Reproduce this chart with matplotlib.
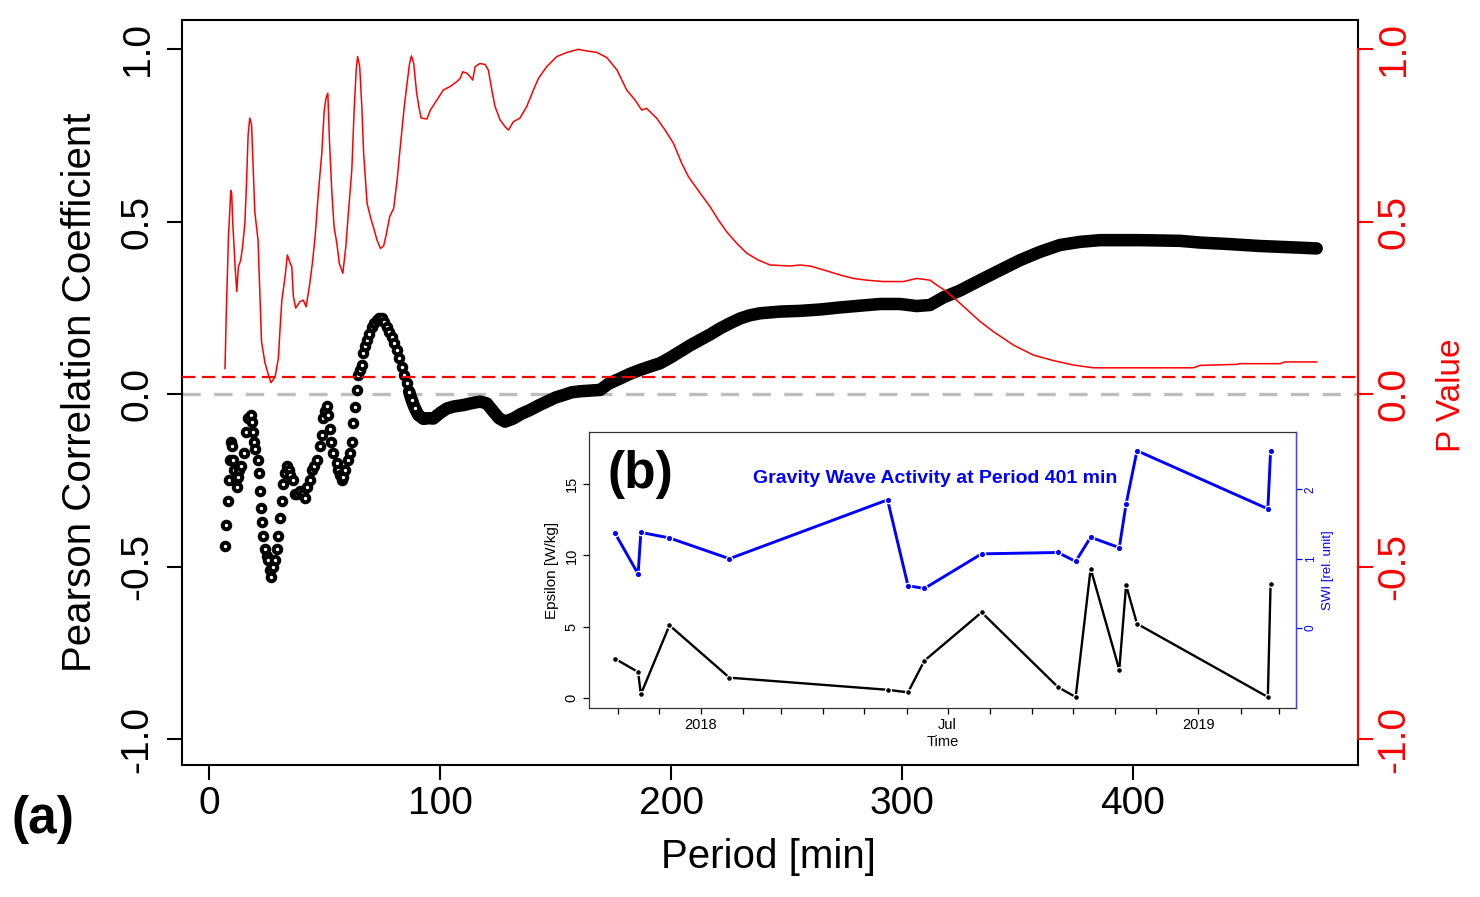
import matplotlib

matplotlib.use("Agg")

import matplotlib.pyplot as plt  # noqa: E402
import pandas as pd  # noqa: E402

plt.rcParams["font.family"] = ["Liberation Sans", "DejaVu Sans"]
NARROW = ["Liberation Sans Narrow", "Liberation Sans", "DejaVu Sans"]

# ---- panel (a): correlation and p value against period ----
corr_period = [
    7.0, 7.5, 8.0, 8.5, 9.0, 9.5, 10.0, 10.5, 11.0, 11.5,
    12.0, 12.5, 13.0, 14.0, 15.0, 16.0, 17.0, 18.0, 18.5, 19.0,
    19.5, 20.0, 21.0, 21.5, 22.0, 22.5, 23.0, 23.5, 24.2, 25.0,
    25.7, 26.4, 27.0, 27.8, 28.5, 29.3, 30.0, 30.7, 31.5, 32.2,
    33.0, 33.6, 34.5, 35.1, 36.5, 37.2, 38.0, 39.4, 40.5, 41.6,
    42.3, 43.7, 44.4, 45.5, 46.6, 48.1, 48.8, 49.5, 50.2, 51.0,
    51.7, 52.4, 52.8, 53.8, 55.3, 56.0, 56.7, 57.4, 58.1, 58.9,
    60.3, 61.0, 61.8, 62.5, 63.2, 63.9, 64.6, 65.3, 66.1, 66.8,
    67.5, 68.3, 69.3, 70.4, 71.5, 72.6, 73.6, 74.7, 75.8, 76.9,
    78.0, 79.1, 80.2, 81.2, 82.3, 83.4, 84.5, 85.6, 86.6, 87.7,
    89.0, 90.6, 92.8, 95.0, 97.1, 100.0, 102.9, 106.0, 110.1, 114.0,
    117.3, 120.2, 123.1, 125.5, 128.1, 131.7, 135.0, 139.0, 143.0, 146.2,
    150.0, 153.4, 157.0, 160.6, 165.0, 169.3, 173.0, 177.9, 182.0, 186.6,
    191.0, 195.2, 199.5, 203.9, 208.0, 212.6, 217.0, 221.2, 225.5, 229.9,
    234.0, 238.5, 247.2, 255.8, 264.5, 273.2, 281.8, 290.5, 299.1, 306.3,
    312.1, 317.9, 325.1, 333.8, 342.4, 351.1, 359.7, 368.4, 377.1, 385.7,
    403.0, 420.3, 429.0, 440.6, 455.0, 469.4, 479.5,
]
corr_value = [
    -0.44, -0.38, -0.31, -0.25, -0.19, -0.14, -0.15, -0.19, -0.22, -0.25,
    -0.27, -0.24, -0.22, -0.21, -0.17, -0.11, -0.07, -0.06, -0.08, -0.11,
    -0.14, -0.16, -0.19, -0.23, -0.28, -0.33, -0.37, -0.41, -0.45, -0.47,
    -0.48, -0.51, -0.53, -0.50, -0.48, -0.45, -0.41, -0.36, -0.31, -0.26,
    -0.23, -0.21, -0.22, -0.235, -0.25, -0.29, -0.29, -0.28, -0.29, -0.30,
    -0.27, -0.25, -0.22, -0.21, -0.19, -0.15, -0.12, -0.07, -0.05, -0.035,
    -0.06, -0.10, -0.14, -0.17, -0.20, -0.22, -0.235, -0.25, -0.24, -0.22,
    -0.19, -0.17, -0.14, -0.085, -0.037, 0.012, 0.055, 0.07, 0.085, 0.118,
    0.14, 0.157, 0.175, 0.195, 0.207, 0.216, 0.219, 0.219, 0.21, 0.195,
    0.18, 0.166, 0.148, 0.128, 0.103, 0.079, 0.055, 0.031, 0.007, -0.017,
    -0.04, -0.061, -0.072, -0.07, -0.071, -0.055, -0.042, -0.036, -0.032, -0.026,
    -0.022, -0.027, -0.051, -0.07, -0.08, -0.071, -0.058, -0.046, -0.032, -0.022,
    -0.01, -0.003, 0.005, 0.008, 0.01, 0.012, 0.03, 0.045, 0.058, 0.07,
    0.08, 0.089, 0.105, 0.123, 0.14, 0.157, 0.173, 0.19, 0.205, 0.219,
    0.228, 0.234, 0.239, 0.241, 0.245, 0.251, 0.256, 0.261, 0.261, 0.255,
    0.258, 0.28, 0.30, 0.33, 0.359, 0.388, 0.412, 0.432, 0.441, 0.446,
    0.446, 0.444, 0.439, 0.435, 0.429, 0.425, 0.422,
]
pval_period = [
    6.9, 7.4, 8.4, 9.4, 9.8, 10.2, 11.3, 12.0, 12.7, 13.7,
    14.5, 15.5, 16.2, 16.9, 17.6, 18.4, 19.1, 19.8, 21.2, 22.0,
    22.7, 24.2, 25.7, 26.8, 28.6, 30.0, 30.7, 31.5, 32.9, 33.9,
    35.1, 35.8, 36.5, 37.5, 39.4, 40.8, 42.0, 43.4, 44.7, 45.9,
    47.3, 48.8, 49.8, 50.6, 51.4, 52.1, 53.1, 54.1, 55.3, 56.4,
    57.9, 59.2, 60.3, 61.8, 62.8, 63.7, 64.3, 65.2, 66.2, 66.9,
    68.4, 69.8, 71.3, 72.7, 74.2, 75.6, 76.8, 78.2, 79.9, 81.4,
    82.5, 83.5, 84.5, 85.7, 86.8, 87.6, 88.6, 89.8, 90.8, 91.8,
    94.3, 95.8, 98.6, 101.4, 104.3, 107.2, 108.7, 109.8, 111.5, 113.0,
    114.1, 115.2, 117.3, 119.5, 120.9, 122.4, 123.8, 126.0, 128.1, 129.6,
    131.7, 134.6, 137.5, 140.4, 142.6, 146.2, 150.5, 154.9, 159.9, 162.8,
    167.9, 172.2, 176.6, 180.8, 184.4, 187.3, 189.4, 193.8, 197.4, 201.0,
    204.6, 207.5, 212.6, 216.9, 220.5, 224.1, 228.4, 232.8, 237.8, 242.9,
    251.5, 255.8, 260.2, 267.4, 273.2, 278.9, 284.7, 291.9, 300.6, 306.3,
    312.1, 315.0, 319.3, 325.1, 333.8, 339.5, 348.2, 356.8, 365.5, 374.2,
    382.8, 426.1, 429.0, 444.9, 446.3, 463.6, 465.8, 479.5,
]
pval_value = [
    0.074, 0.224, 0.456, 0.59, 0.58, 0.504, 0.365, 0.297, 0.369, 0.388,
    0.427, 0.495, 0.61, 0.75, 0.80, 0.78, 0.65, 0.528, 0.446, 0.292,
    0.152, 0.09, 0.055, 0.033, 0.05, 0.104, 0.186, 0.272, 0.34, 0.403,
    0.379, 0.369, 0.282, 0.249, 0.268, 0.272, 0.253, 0.311, 0.378, 0.456,
    0.582, 0.698, 0.818, 0.857, 0.872, 0.736, 0.591, 0.485, 0.437, 0.378,
    0.35, 0.427, 0.524, 0.65, 0.823, 0.94, 0.978, 0.95, 0.823, 0.698,
    0.553, 0.514, 0.48, 0.446, 0.422, 0.43, 0.466, 0.514, 0.538, 0.62,
    0.698, 0.765, 0.833, 0.90, 0.958, 0.98, 0.958, 0.876, 0.833, 0.80,
    0.797, 0.823, 0.852, 0.881, 0.891, 0.905, 0.915, 0.934, 0.93, 0.92,
    0.91, 0.949, 0.958, 0.955, 0.939, 0.881, 0.833, 0.794, 0.775, 0.765,
    0.789, 0.80, 0.833, 0.881, 0.915, 0.949, 0.978, 0.99, 0.999, 0.995,
    0.99, 0.975, 0.939, 0.881, 0.852, 0.823, 0.828, 0.799, 0.765, 0.727,
    0.669, 0.63, 0.582, 0.543, 0.504, 0.47, 0.437, 0.408, 0.388, 0.374,
    0.371, 0.374, 0.371, 0.357, 0.345, 0.335, 0.33, 0.326, 0.326, 0.335,
    0.33, 0.316, 0.297, 0.263, 0.21, 0.181, 0.142, 0.113, 0.097, 0.084,
    0.076, 0.076, 0.083, 0.086, 0.088, 0.088, 0.093, 0.093,
]
P_LEVEL = 0.05
period_ticks = [0, 100, 200, 300, 400]
value_ticks = [-1.0, -0.5, 0.0, 0.5, 1.0]

# ---- panel (b): time series at period 401 min ----
obs_dates = pd.to_datetime([
    "2017-10-30", "2017-11-16", "2017-11-18", "2017-12-09", "2018-01-22",
    "2018-05-18", "2018-06-02", "2018-06-14", "2018-07-26", "2018-09-20",
    "2018-10-03", "2018-10-14", "2018-11-04", "2018-11-09", "2018-11-17",
    "2019-02-21", "2019-02-23",
])
epsilon = [2.74, 1.81, 0.24, 5.09, 1.41, 0.56, 0.38, 2.6, 6.0, 0.75,
           0.05, 9.07, 1.97, 7.9, 5.2, 0.05, 8.0]
swi = [1.37, 0.78, 1.38, 1.3, 1.0, 1.85, 0.61, 0.57, 1.07, 1.09,
       0.96, 1.31, 1.16, 1.79, 2.56, 1.72, 2.55]
month_ticks = pd.date_range("2017-11-01", "2019-03-01", freq="MS")
month_labels = {"2018-01": "2018", "2018-07": "Jul", "2019-01": "2019"}

fig = plt.figure(figsize=(14.8, 8.97), dpi=100)
fig.patch.set_facecolor("white")

ax = fig.add_axes([0.123, 0.1472, 0.7946, 0.8305])
ax.set_xlim(-11.7, 497.4)
ax.set_ylim(-1.075, 1.084)
ax.axhline(0.0, color="#bebebe", linewidth=2.4, dashes=(5.5, 4), zorder=1)

# the dense part of the curve is drawn as a thick band, the sparse start as symbols
early = [i for i, p in enumerate(corr_period) if p < 90]
late = [i for i, p in enumerate(corr_period) if p >= 86]
ax.plot([corr_period[i] for i in late], [corr_value[i] for i in late],
        color="black", linewidth=9, solid_capstyle="round", zorder=2)
ax.plot([corr_period[i] for i in early], [corr_value[i] for i in early],
        linestyle="none", marker="o", markersize=5.4, markerfacecolor="white",
        markeredgecolor="black", markeredgewidth=2.9, zorder=3)

ax.set_xticks(period_ticks)
ax.set_yticks(value_ticks)
ax.set_yticklabels([f"{v:.1f}" for v in value_ticks], rotation=90, va="center")
ax.tick_params(axis="both", labelsize=28, length=11, width=1.5, direction="out")
ax.tick_params(axis="x", pad=4)
ax.tick_params(axis="y", pad=8)
for side in ["left", "bottom", "top", "right"]:
    ax.spines[side].set_linewidth(1.5)

ax2 = ax.twinx()
ax2.set_ylim(ax.get_ylim())
ax2.axhline(P_LEVEL, color="red", linewidth=1.6, dashes=(6, 3), zorder=3)
ax2.plot(pval_period, pval_value, color="red", linewidth=1.1, zorder=4)
ax2.set_yticks(value_ticks)
ax2.set_yticklabels([f"{v:.1f}" for v in value_ticks], rotation=90, va="center")
ax2.tick_params(axis="y", labelsize=28, length=11, width=1.5, colors="red", pad=2)
ax2.spines["right"].set_bounds(-1, 1)
ax2.spines["right"].set_color("red")
ax2.spines["right"].set_linewidth(1.5)
for side in ["left", "top", "bottom"]:
    ax2.spines[side].set_visible(False)

fig.text(0.054, 0.5627, "Pearson Correlation Coefficient", rotation=90,
         ha="center", va="center", fontsize=29)
fig.text(0.981, 0.5595, "P Value", rotation=90, ha="center", va="center",
         fontsize=24, color="red")
fig.text(0.519, 0.045, "Period [min]", ha="center", va="center", fontsize=29)
fig.text(0.029, 0.086, "(a)", ha="center", va="center", fontsize=37,
         fontweight="bold")

# ---- inset ----
axb = fig.add_axes([0.398, 0.2107, 0.478, 0.3077])
axb.set_facecolor("white")
axb.set_xlim(pd.Timestamp("2017-10-11"), pd.Timestamp("2019-03-14"))
axb.set_ylim(-0.72, 18.67)
axb.plot(obs_dates, epsilon, color="black", linewidth=1.7, marker="o",
         markersize=4.2, markeredgecolor="white", markeredgewidth=0.9, zorder=3)
axb.set_xticks(month_ticks)
axb.set_xticklabels([month_labels.get(d.strftime("%Y-%m"), "") for d in month_ticks])
axb.set_yticks([0, 5, 10, 15])
axb.set_yticklabels(["0", "5", "10", "15"], rotation=90, va="center")
axb.tick_params(axis="both", labelsize=10.5, length=4.5, width=0.9, pad=3)
axb.set_xlabel("Time", fontsize=10.5, labelpad=2)
axb.set_ylabel("Epsilon [W/kg]", fontsize=11, labelpad=4)
for side in ["left", "bottom", "top", "right"]:
    axb.spines[side].set_linewidth(0.9)
    axb.spines[side].set_color("#333333")

axs = axb.twinx()
axs.set_ylim(-1.156, 2.83)
axs.plot(obs_dates, swi, color="#0000ff", linewidth=2.1, marker="o",
         markersize=4.6, markeredgecolor="white", markeredgewidth=0.9, zorder=3)
axs.set_yticks([0, 1, 2])
axs.set_yticklabels(["0", "1", "2"], rotation=90, va="center")
axs.tick_params(axis="y", labelsize=8.5, length=4, width=0.9, colors="#0000ff", pad=2)
axs.spines["right"].set_color("#4040ff")
axs.spines["right"].set_linewidth(0.9)
for side in ["left", "top", "bottom"]:
    axs.spines[side].set_visible(False)
axs.set_ylabel("SWI [rel. unit]", fontsize=9.5, color="#0000ff", labelpad=4,
               family=NARROW)

axb.text(0.489, 0.83, "Gravity Wave Activity at Period 401 min",
         transform=axb.transAxes, ha="center", va="center", fontsize=14,
         fontweight="bold", color="#0000ff", family=NARROW, zorder=6)
axb.text(0.072, 0.845, "(b)", transform=axb.transAxes, ha="center",
         va="center", fontsize=37, fontweight="bold", zorder=6)

fig.savefig("out.png", dpi=100)
